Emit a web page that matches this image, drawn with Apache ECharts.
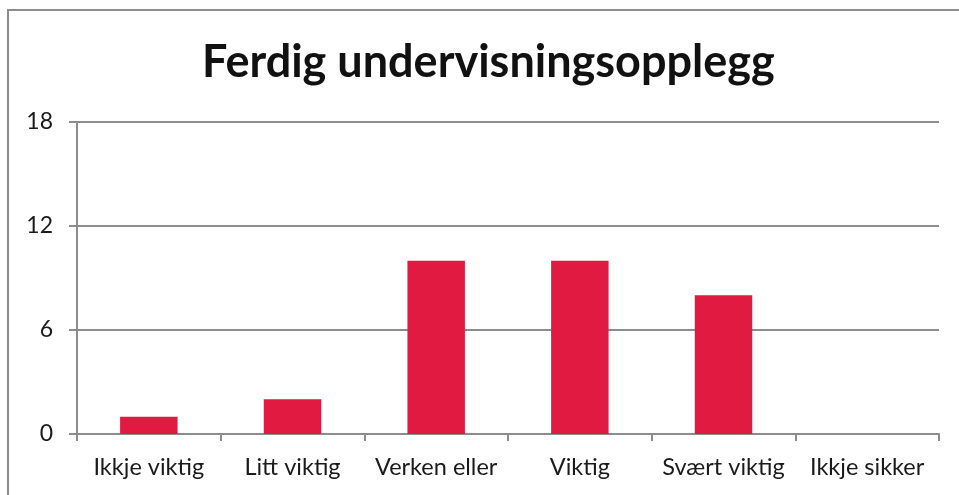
<!DOCTYPE html>
<html>
<head>
<meta charset="utf-8">
<script src="https://cdn.jsdelivr.net/npm/echarts@6/dist/echarts.min.js"></script>
<style>
  html, body { margin: 0; padding: 0; background: #fff; }
  #chart { width: 959px; height: 495px; }
</style>
</head>
<body>
<div id="chart"></div>
<script>
// Answer categories along the x axis
const categories = ['Ikkje viktig', 'Litt viktig', 'Verken eller', 'Viktig', 'Svært viktig', 'Ikkje sikker'];
// Number of responses per category
const counts = [1, 2, 10, 10, 8, 0];
// Value axis range and step
const yMin = 0;
const yMax = 18;
const yStep = 6;

const chart = echarts.init(document.getElementById('chart'));
const lineGray = '#8c8c8c';
const font = 'Lato, "Open Sans", sans-serif';

chart.setOption({
  animation: false,
  backgroundColor: '#ffffff',
  title: {
    text: 'Ferdig undervisningsopplegg',
    left: 197,
    top: 35,
    textStyle: { fontFamily: font, fontWeight: 'bold', fontSize: 45, color: '#111' }
  },
  graphic: [{
    type: 'rect',
    shape: { x: 8, y: 10, width: 1000, height: 600 },
    style: { fill: 'none', stroke: lineGray, lineWidth: 2 },
    silent: true
  }],
  grid: { left: 77, right: 20, top: 122, bottom: 61, containLabel: false },
  xAxis: {
    type: 'category',
    data: categories,
    axisLine: { show: true, lineStyle: { color: lineGray, width: 2 } },
    axisTick: { show: true, alignWithLabel: false, length: 7, lineStyle: { color: lineGray, width: 2 } },
    axisLabel: { color: '#1a1a1a', fontFamily: font, fontSize: 23.5, margin: 21, interval: 0 }
  },
  yAxis: {
    type: 'value',
    min: yMin,
    max: yMax,
    interval: yStep,
    axisLine: { show: true, lineStyle: { color: lineGray, width: 2 } },
    axisTick: { show: true, length: 8, lineStyle: { color: lineGray, width: 2 } },
    splitLine: { show: true, lineStyle: { color: lineGray, width: 2 } },
    axisLabel: { color: '#1a1a1a', fontFamily: font, fontSize: 23, margin: 24 }
  },
  series: [{
    type: 'bar',
    data: counts,
    barCategoryGap: '60%',
    itemStyle: { color: '#e01a41' }
  }]
});
</script>
</body>
</html>
